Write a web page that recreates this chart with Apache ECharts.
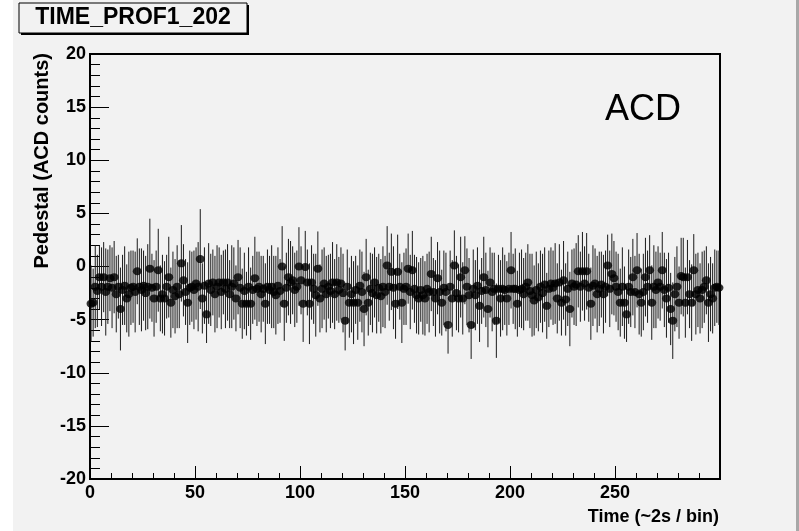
<!DOCTYPE html>
<html>
<head>
<meta charset="utf-8">
<script src="https://cdn.jsdelivr.net/npm/echarts@6/dist/echarts.min.js"></script>
<style>
html, body { margin: 0; padding: 0; background: #f2f2f2; }
#chart { width: 799px; height: 531px; }
</style>
</head>
<body>
<div id="chart"></div>
<script>
// pedestal per time bin (300 bins)
const pedestal = [
    -3.5, -3.4, -1.9, -2.3, -1.0, -1.9, -1.0, -2.4, -1.9, -1.1, -2.0, -1.0, -2.6, -1.9, -4.0, -2.2, -1.8, -3.0, -2.6, -2.0,
    -1.9, -2.4, -0.45, -1.9, -2.2, -1.8, -2.5, -1.9, -0.2, -2.0, -3.0, -1.9, -0.35, -3.0, -2.6, -3.0, -1.9, -1.0, -3.4, -2.2,
    -2.8, -1.9, -2.6, 0.3, -1.3, -2.4, -3.4, -2.0, -1.9, -2.2, -1.6, -1.9, 0.7, -3.0, -1.8, -4.5, -1.6, -2.2, -1.5, -2.6,
    -1.9, -1.5, -2.4, -1.5, -2.1, -1.5, -2.6, -1.9, -1.6, -3.0, -1.0, -2.0, -3.5, -2.3, -3.5, -1.9, -3.5, -2.2, -1.1, -2.1,
    -1.9, -2.6, -2.1, -3.5, -1.9, -2.2, -1.9, -2.4, -2.7, -1.8, -2.3, 0.0, -3.5, -2.0, -1.0, -1.5, -1.3, -2.2, -1.9, 0.0,
    -1.3, -3.5, -0.05, -1.5, -3.5, -1.5, -2.1, -2.7, -0.2, -3.0, -2.1, -1.6, -2.6, -1.9, -2.3, -1.5, -2.6, -1.5, -2.2, -1.6,
    -2.5, -5.1, -1.9, -3.4, -2.6, -3.4, -2.2, -3.4, -1.8, -2.4, -4.0, -1.0, -3.4, -2.1, -2.5, -1.5, -2.7, -2.0, -2.8, -1.9,
    -2.4, 0.1, -1.9, -0.5, -2.0, -3.5, -0.5, -1.9, -3.4, -2.1, -1.9, -0.2, -2.4, -0.35, -2.1, -2.7, -3.0, -2.2, -2.7, -3.0,
    -2.1, -2.4, -0.7, -2.4, -3.0, -1.1, -2.4, -3.4, -2.0, -2.4, -5.5, -1.9, -3.0, 0.1, -2.5, -3.0, -1.0, -3.0, -0.35, -1.9,
    -2.7, -5.5, -2.1, -2.7, -1.8, -3.7, -2.3, -1.0, -2.2, -4.0, -1.5, -2.4, -2.1, -5.1, -2.1, -3.0, -2.1, -2.2, -3.0, -2.1,
    -0.35, -2.1, -2.1, -3.5, -2.2, -2.1, -2.6, -1.9, -1.5, -2.3, -2.7, -3.2, -2.2, -2.9, -1.9, -2.5, -1.7, -3.7, -2.1, -1.6,
    -2.0, -1.6, -3.0, -1.5, -3.4, -1.3, -3.1, -2.1, -4.0, -1.6, -1.9, -1.7, -0.45, -1.9, -0.45, -1.6, -0.45, -2.0, -3.5, -1.8,
    -1.6, -2.6, -2.1, -1.7, -2.6, -1.9, 0.1, -2.1, -0.7, -1.1, -1.9, -2.4, -3.4, -1.9, -3.4, -4.5, -1.9, -2.4, -1.0, -2.4,
    -0.35, -2.6, -3.4, -2.4, -1.0, -1.9, -0.35, -3.4, -1.9, -2.2, -1.5, -1.9, -0.35, -2.2, -3.0, -2.0, -4.0, -5.1, -2.6, -1.9,
    -3.4, -0.9, -1.0, -3.4, -1.0, -2.6, -3.4, -0.35, -2.6, -2.2, -3.0, -2.2, -1.9, -1.3, -3.4, -2.6, -3.0, -2.0, -1.9, -2.0
]

// error on the pedestal per bin
const pedestalErr = [
    3.6, 3.2, 3.9, 3.4, 3.0, 3.7, 3.3, 4.1, 3.5, 3.1, 3.8, 3.4, 3.6, 3.0, 3.9, 3.3, 3.7, 3.2, 4.0, 3.5,
    3.4, 3.8, 3.1, 3.6, 3.9, 3.3, 3.5, 4.0, 4.7, 3.2, 3.6, 3.4, 3.9, 3.1, 3.7, 3.5, 3.0, 3.8, 3.3, 3.6,
    3.5, 3.9, 3.2, 3.6, 3.4, 3.1, 3.8, 3.5, 3.3, 3.7, 3.4, 4.2, 4.7, 3.3, 3.6, 2.7, 3.8, 3.4, 3.1, 3.6,
    3.9, 3.3, 3.5, 3.0, 3.7, 3.6, 3.2, 3.9, 3.4, 3.1, 3.5, 3.8, 3.3, 3.6, 3.0, 3.7, 3.4, 3.2, 3.9, 3.5,
    3.3, 3.6, 3.1, 3.8, 3.5, 3.2, 3.9, 3.4, 3.7, 3.6, 3.0, 3.8, 3.5, 3.3, 3.6, 3.9, 3.2, 3.5, 3.4, 3.7,
    3.2, 3.6, 3.4, 3.1, 3.8, 3.5, 3.3, 3.9, 3.5, 3.2, 3.7, 3.4, 3.6, 3.0, 3.5, 3.8, 3.3, 3.6, 3.1, 3.4,
    3.7, 2.8, 3.5, 3.3, 3.6, 3.9, 3.2, 3.5, 3.4, 3.8, 3.5, 3.6, 3.1, 3.4, 3.7, 3.3, 3.6, 3.2, 3.5, 3.8,
    3.4, 3.7, 3.2, 3.6, 3.9, 3.3, 3.5, 3.1, 3.8, 3.4, 3.6, 3.3, 3.5, 3.7, 3.2, 3.6, 3.4, 3.0, 3.7, 3.5,
    3.3, 3.8, 3.5, 3.2, 3.6, 3.4, 3.9, 3.1, 3.5, 3.7, 2.7, 3.4, 3.6, 3.3, 3.5, 3.2, 3.8, 3.4, 3.2, 3.6,
    3.5, 3.2, 3.7, 3.3, 3.6, 3.4, 3.1, 3.8, 3.5, 3.6, 3.3, 3.7, 3.4, 3.5, 3.2, 3.6, 3.9, 3.3, 3.5, 3.4,
    3.6, 3.3, 3.8, 3.1, 3.5, 3.7, 3.4, 3.2, 3.6, 3.5, 3.9, 3.3, 3.6, 3.2, 3.4, 3.7, 3.5, 3.1, 3.6, 3.4,
    3.5, 3.8, 3.3, 3.6, 3.1, 3.7, 3.4, 3.5, 3.5, 3.2, 3.6, 3.9, 3.4, 3.3, 3.7, 3.5, 3.6, 3.2, 3.4, 3.8,
    3.3, 3.6, 3.5, 3.1, 3.7, 3.4, 2.9, 3.6, 3.8, 3.5, 3.3, 3.6, 3.2, 3.7, 3.4, 2.6, 3.5, 3.3, 3.6, 3.4,
    3.5, 3.8, 3.2, 3.6, 3.7, 3.4, 3.3, 3.5, 3.9, 3.6, 3.4, 3.2, 3.6, 3.5, 3.7, 3.3, 3.4, 3.6, 3.5, 3.8,
    3.4, 3.6, 3.7, 3.3, 3.5, 3.2, 3.6, 3.4, 3.8, 3.5, 3.3, 3.6, 3.4, 3.2, 3.7, 3.5, 3.3, 3.6, 3.4, 3.5
]

const xTickLabels = ['0', '50', '100', '150', '200', '250']
const yTickLabels = ['-20', '-15', '-10', '-5', '0', '5', '10', '15', '20']

const titleText = 'TIME_PROF1_202'
const xTitle = 'Time (~2s / bin)'
const yTitle = 'Pedestal (ACD counts)'
const noteText = 'ACD'

const font = 'Liberation Sans, Arial, sans-serif'

// bin centres: [x, value, error]
const points = pedestal.map((v, i) => [i + 0.5, v, pedestalErr[i] || 3.5])

const chart = echarts.init(document.getElementById('chart'), null, { renderer: 'canvas' })

const labelStyle = {
    color: '#000',
    fontFamily: font,
    fontWeight: 'bold',
    fontSize: 18,
}

chart.setOption({
    backgroundColor: '#f2f2f2',
    animation: false,
    grid: {
        left: 90,
        right: 79,
        top: 54,
        bottom: 52,
        show: true,
        borderColor: '#000',
        borderWidth: 2,
        backgroundColor: 'transparent',
    },
    xAxis: {
        type: 'value',
        min: 0,
        max: 300,
        interval: 50,
        axisLine: { onZero: false, lineStyle: { color: '#000', width: 2 } },
        axisTick: { inside: true, length: 13, lineStyle: { color: '#000' } },
        minorTick: { show: true, splitNumber: 5, length: 6, lineStyle: { color: '#000' } },
        splitLine: { show: false },
        axisLabel: {
            ...labelStyle,
            margin: 5,
            formatter: (v) => xTickLabels.includes(String(v)) ? String(v) : '',
        },
    },
    yAxis: {
        type: 'value',
        min: -20,
        max: 20,
        interval: 5,
        axisLine: { onZero: false, lineStyle: { color: '#000', width: 2 } },
        axisTick: { inside: true, length: 19, lineStyle: { color: '#000' } },
        minorTick: { show: true, splitNumber: 5, length: 10, lineStyle: { color: '#000' } },
        splitLine: { show: false },
        axisLabel: {
            ...labelStyle,
            margin: 4,
            formatter: (v) => yTickLabels.includes(String(v)) ? String(v) : '',
        },
    },
    graphic: [
        { type: 'rect', left: 0, top: 0, z: -10, shape: { width: 13, height: 531 }, style: { fill: '#fff' } },
        { type: 'rect', left: 796, top: 0, z: -10, shape: { width: 3, height: 531 }, style: { fill: '#a8a8a8' } },
        // title box with shadow
        { type: 'rect', x: 21, y: 5, shape: { width: 228, height: 30 }, style: { fill: '#000' } },
        { type: 'rect', x: 19, y: 3, shape: { width: 228, height: 30 }, style: { fill: '#f2f2f2', stroke: '#000', lineWidth: 1 } },
        {
            type: 'text', x: 133, y: 18,
            style: { text: titleText, fill: '#000', font: 'bold 23px ' + font, align: 'center', verticalAlign: 'middle' },
        },
        {
            type: 'text', x: 42, y: 53, rotation: Math.PI / 2,
            style: { text: yTitle, fill: '#000', font: 'bold 20px ' + font, align: 'right', verticalAlign: 'middle' },
        },
        {
            type: 'text', x: 719, y: 517,
            style: { text: xTitle, fill: '#000', font: 'bold 18px ' + font, align: 'right', verticalAlign: 'middle' },
        },
        {
            type: 'text', x: 605, y: 128,
            style: { text: noteText, fill: '#000', font: '36px ' + font, align: 'left', verticalAlign: 'bottom' },
        },
    ],
    series: [
        {
            type: 'custom',
            data: points,
            renderItem: (params, api) => {
                const x = api.value(0)
                const y = api.value(1)
                const e = api.value(2)
                const top = api.coord([x, y + e])
                const bot = api.coord([x, y - e])
                return {
                    type: 'line',
                    shape: { x1: top[0], y1: top[1], x2: bot[0], y2: bot[1] },
                    style: { stroke: '#1a1a1a', lineWidth: 1 },
                }
            },
            z: 2,
        },
        {
            type: 'scatter',
            data: points.map((p) => [p[0], p[1]]),
            symbol: 'circle',
            symbolSize: [9, 8],
            itemStyle: { color: '#000' },
            z: 3,
        },
    ],
})
</script>
</body>
</html>
